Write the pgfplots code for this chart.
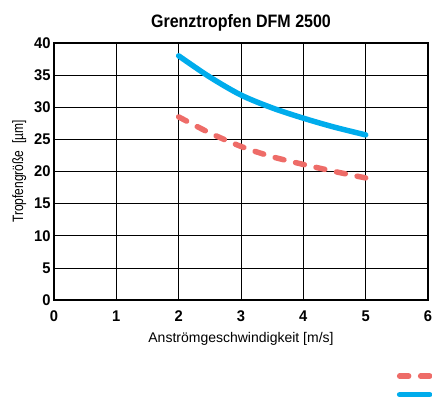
\documentclass[border=0pt]{standalone}
\usepackage{pgfplots}
\pgfplotsset{compat=1.18}
\usepackage{fontspec}
\setmainfont{Liberation Sans}[FakeStretch=0.8]
\newfontfamily\titlefont{Liberation Sans}[FakeStretch=0.89]
\newfontfamily\tickfont{Liberation Sans}[FakeStretch=0.95]
\newfontfamily\xlabfont{Liberation Sans}
\definecolor{cblue}{RGB}{0,172,236}
\definecolor{cred}{RGB}{238,108,104}
\begin{document}
\begin{tikzpicture}
\begin{axis}[
  at={(0pt,0pt)}, anchor=south west,
  scale only axis, width=374pt, height=257pt,
  xmin=0, xmax=6, ymin=0, ymax=40,
  xtick={0,...,6}, ytick={0,5,...,40},
  grid=major, grid style={black, line width=0.7pt},
  axis line style={black, line width=2pt},
  tick style={draw=none},
  /pgf/number format/assume math mode=true,
  ticklabel style={font=\tickfont\fontsize{15.5}{15.5}\selectfont\bfseries},
  xticklabel style={yshift=-7pt},
  title={\titlefont\fontsize{18}{18}\selectfont\bfseries Grenztropfen DFM 2500},
  title style={yshift=2pt},
  xlabel={\xlabfont\fontsize{14}{14}\selectfont Anströmgeschwindigkeit [m/s]},
  ylabel={\fontsize{15}{15}\selectfont Tropfengröße~~[µm]},
  xlabel style={yshift=-4pt},
  ylabel style={yshift=1pt},
  legend style={at={(1.015,-0.285)}, anchor=north east, draw=none, fill=none, row sep=13pt, inner sep=0pt, font=\tiny,
    nodes={inner sep=0pt}},
  legend cell align=left,
  legend image code/.code={\draw[#1] (0cm,0cm) -- (30pt,0cm);},
]
\addplot[cred, line width=5.5pt, dash pattern=on 9pt off 12pt, line cap=round, smooth] coordinates {
(2,28.5) (2.5,26.0) (3,23.9) (3.5,22.3) (4,21.1) (4.5,20.0) (5,19.0)};
\addlegendentry{}
\addplot[cblue, line width=5.5pt, line cap=round, smooth] coordinates {
(2,38.0) (2.5,34.7) (3,31.9) (3.5,29.9) (4,28.3) (4.5,26.9) (5,25.7)};
\addlegendentry{}
\end{axis}
\pgfresetboundingbox
\useasboundingbox (-54pt,-102pt) rectangle (378pt,300pt);
\end{tikzpicture}
\end{document}
